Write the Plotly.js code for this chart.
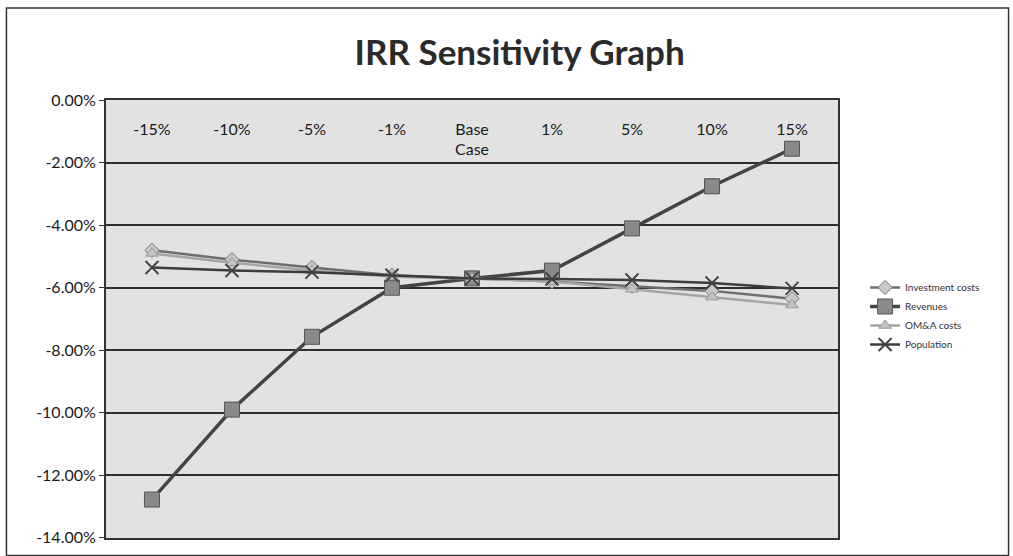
<!DOCTYPE html>
<html>
<head>
<meta charset="utf-8">
<script src="https://cdn.plot.ly/plotly-3.0.1.min.js"></script>
<style>html,body{margin:0;padding:0;background:#fff;}#chart{width:1013px;height:556px;}</style>
</head>
<body>
<div id="chart"></div>
<script>
const categories = ['-15%', '-10%', '-5%', '-1%', 'Base Case', '1%', '5%', '10%', '15%'];
const categoryLabels = ['-15%', '-10%', '-5%', '-1%', 'Base<br>Case', '1%', '5%', '10%', '15%'];
const investmentCosts = [-4.80, -5.10, -5.35, -5.60, -5.70, -5.80, -5.95, -6.10, -6.35];
const revenues = [-12.78, -9.90, -7.57, -6.00, -5.70, -5.45, -4.10, -2.75, -1.55];
const omaCosts = [-4.90, -5.20, -5.45, -5.65, -5.70, -5.80, -6.05, -6.30, -6.55];
const population = [-5.35, -5.45, -5.50, -5.60, -5.70, -5.72, -5.75, -5.85, -6.02];
const yTicks = [0, -2, -4, -6, -8, -10, -12, -14];
const yTickLabels = yTicks.map(v => v.toFixed(2) + '%');

const font = 'Lato, "Open Sans", sans-serif';

const traces = [
  {x: categories, y: investmentCosts, name: 'Investment costs', mode: 'lines+markers',
   line: {color: '#6e6e6e', width: 2.5},
   marker: {symbol: 'diamond', size: 11, color: '#c8c8c8', line: {color: '#777', width: 1}}},
  {x: categories, y: revenues, name: 'Revenues', mode: 'lines+markers',
   line: {color: '#444', width: 3.5},
   marker: {symbol: 'square', size: 15, color: '#8a8a8a', line: {color: '#555', width: 1}}},
  {x: categories, y: omaCosts, name: 'OM&A costs', mode: 'lines+markers',
   line: {color: '#a5a5a5', width: 2.5},
   marker: {symbol: 'triangle-up', size: 11, color: '#c4c4c4', line: {color: '#9a9a9a', width: 1}}},
  {x: categories, y: population, name: 'Population', mode: 'lines+markers',
   line: {color: '#3c3c3c', width: 2.5},
   marker: {symbol: 'x-thin-open', size: 13, color: '#444', line: {color: '#444', width: 2}}},
  // carrier for the category label axis drawn inside the plot near the top
  {x: categories, y: population, xaxis: 'x2', mode: 'lines', opacity: 0, showlegend: false, hoverinfo: 'skip'}
];

const layout = {
  width: 1013, height: 556,
  margin: {l: 106, r: 175, t: 100, b: 18},
  paper_bgcolor: '#ffffff',
  plot_bgcolor: '#e2e2e2',
  font: {family: font, color: '#222'},
  title: {text: '<b>IRR Sensitivity Graph</b>', x: 0.513, xanchor: 'center', y: 0.906, yanchor: 'middle',
          font: {family: font, size: 35, color: '#2a2a2a'}},
  xaxis: {
    type: 'category', side: 'top', showticklabels: false, ticks: '',
    showgrid: false, showline: true, linecolor: '#333', linewidth: 2, mirror: true,
    zeroline: false, fixedrange: true
  },
  xaxis2: {
    type: 'category', overlaying: 'x', matches: 'x', anchor: 'free', position: 0.96, side: 'bottom',
    tickmode: 'array', tickvals: categories, ticktext: categoryLabels, ticks: '',
    tickfont: {family: font, size: 16, color: '#1a1a1a'},
    showgrid: false, showline: false, zeroline: false, fixedrange: true
  },
  yaxis: {
    range: [-14.01, 0.01], tickmode: 'array', tickvals: yTicks, ticktext: yTickLabels,
    tickfont: {family: font, size: 16, color: '#1a1a1a'},
    ticks: 'outside', ticklen: 5, tickcolor: '#333',
    showgrid: true, gridcolor: '#2e2e2e', gridwidth: 1.6,
    showline: true, linecolor: '#333', linewidth: 2, mirror: true,
    zeroline: false, fixedrange: true
  },
  legend: {x: 1.037, y: 0.605, xanchor: 'left', yanchor: 'top',
           font: {family: font, size: 10, color: '#333'}, bgcolor: 'rgba(0,0,0,0)', tracegroupgap: 0},
  shapes: [
    {type: 'rect', xref: 'paper', yref: 'paper', x0: -0.136, x1: 1.233, y0: -0.04, y1: 1.21,
     line: {color: '#333', width: 1.5}, fillcolor: 'rgba(0,0,0,0)'}
  ],
  showlegend: true
};

Plotly.newPlot('chart', traces, layout, {displayModeBar: false, staticPlot: true});
</script>
</body>
</html>
